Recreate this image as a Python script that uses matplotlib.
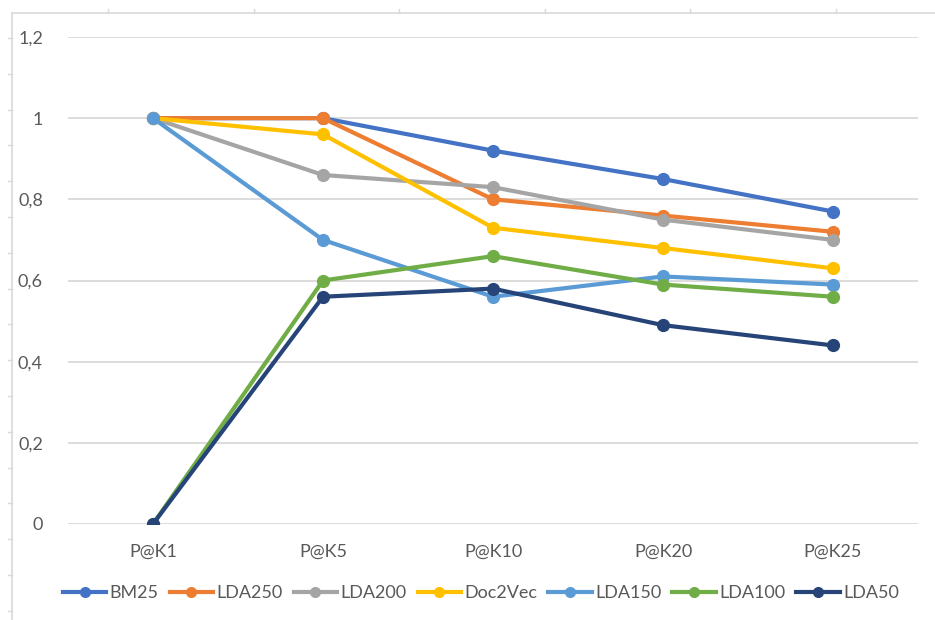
import matplotlib
matplotlib.use("Agg")
import matplotlib.pyplot as plt
from matplotlib.lines import Line2D

plt.rcParams["font.family"] = ["Lato", "DejaVu Sans"]

# precision at k for each model
cutoffs = ["P@K1", "P@K5", "P@K10", "P@K20", "P@K25"]
bm25 = [1.0, 1.0, 0.92, 0.85, 0.77]
lda250 = [1.0, 1.0, 0.80, 0.76, 0.72]
lda200 = [1.0, 0.86, 0.83, 0.75, 0.70]
doc2vec = [1.0, 0.96, 0.73, 0.68, 0.63]
lda150 = [1.0, 0.70, 0.56, 0.61, 0.59]
lda100 = [0.0, 0.60, 0.66, 0.59, 0.56]
lda50 = [0.0, 0.56, 0.58, 0.49, 0.44]

series = [
    ("BM25", bm25, "#4472C4"),
    ("LDA250", lda250, "#ED7D31"),
    ("LDA200", lda200, "#A5A5A5"),
    ("Doc2Vec", doc2vec, "#FFC000"),
    ("LDA150", lda150, "#5B9BD5"),
    ("LDA100", lda100, "#70AD47"),
    ("LDA50", lda50, "#264478"),
]
yticks = [0, 0.2, 0.4, 0.6, 0.8, 1.0, 1.2]
ytick_labels = ["0", "0,2", "0,4", "0,6", "0,8", "1", "1,2"]

W, H = 935, 620
fig = plt.figure(figsize=(W / 100, H / 100), dpi=100)
ax = fig.add_axes([68 / W, 1 - 524 / H, 850 / W, 487 / H])

x = range(len(cutoffs))
for name, vals, col in series:
    ax.plot(x, vals, color=col, lw=3, marker="o", ms=8.5, label=name,
            solid_capstyle="round", zorder=3)

ax.set_xlim(-0.5, len(cutoffs) - 0.5)
ax.set_ylim(0, 1.2)
ax.set_yticks(yticks)
ax.set_yticklabels(ytick_labels)
ax.set_xticks(list(x))
ax.set_xticklabels(cutoffs)
ax.grid(axis="y", color="#D9D9D9", lw=1.3)
ax.set_axisbelow(True)
for s in ax.spines.values():
    s.set_visible(False)
ax.tick_params(axis="both", length=0, labelsize=13, labelcolor="#595959")
ax.tick_params(axis="y", pad=18)
ax.tick_params(axis="x", pad=14)

handles = [Line2D([], [], color=c, lw=3, marker="o", ms=7) for _, _, c in series]
fig.legend(handles, [n for n, _, _ in series], loc="center",
           bbox_to_anchor=(481 / W, 1 - 593 / H), ncol=7, frameon=False,
           fontsize=13, labelcolor="#595959", handlelength=2.4,
           handletextpad=0.2, columnspacing=0.6, borderpad=0)

# sheet frame with small ruler ticks
border = "#D9D9D9"
fig.add_artist(Line2D([12 / W, 1], [1 - 13 / H] * 2, color=border, lw=1.2))
fig.add_artist(Line2D([12 / W] * 2, [0, 1 - 13 / H], color=border, lw=1.2))
for k in range(6):
    px = 108 + 145.5 * k
    fig.add_artist(Line2D([px / W] * 2, [1 - 9 / H, 1 - 13 / H], color=border, lw=1))
for k in range(17):
    py = 38 + 35.8 * k
    fig.add_artist(Line2D([8 / W, 12 / W], [1 - py / H] * 2, color=border, lw=1))

fig.savefig("out.png", dpi=100, facecolor="white")
